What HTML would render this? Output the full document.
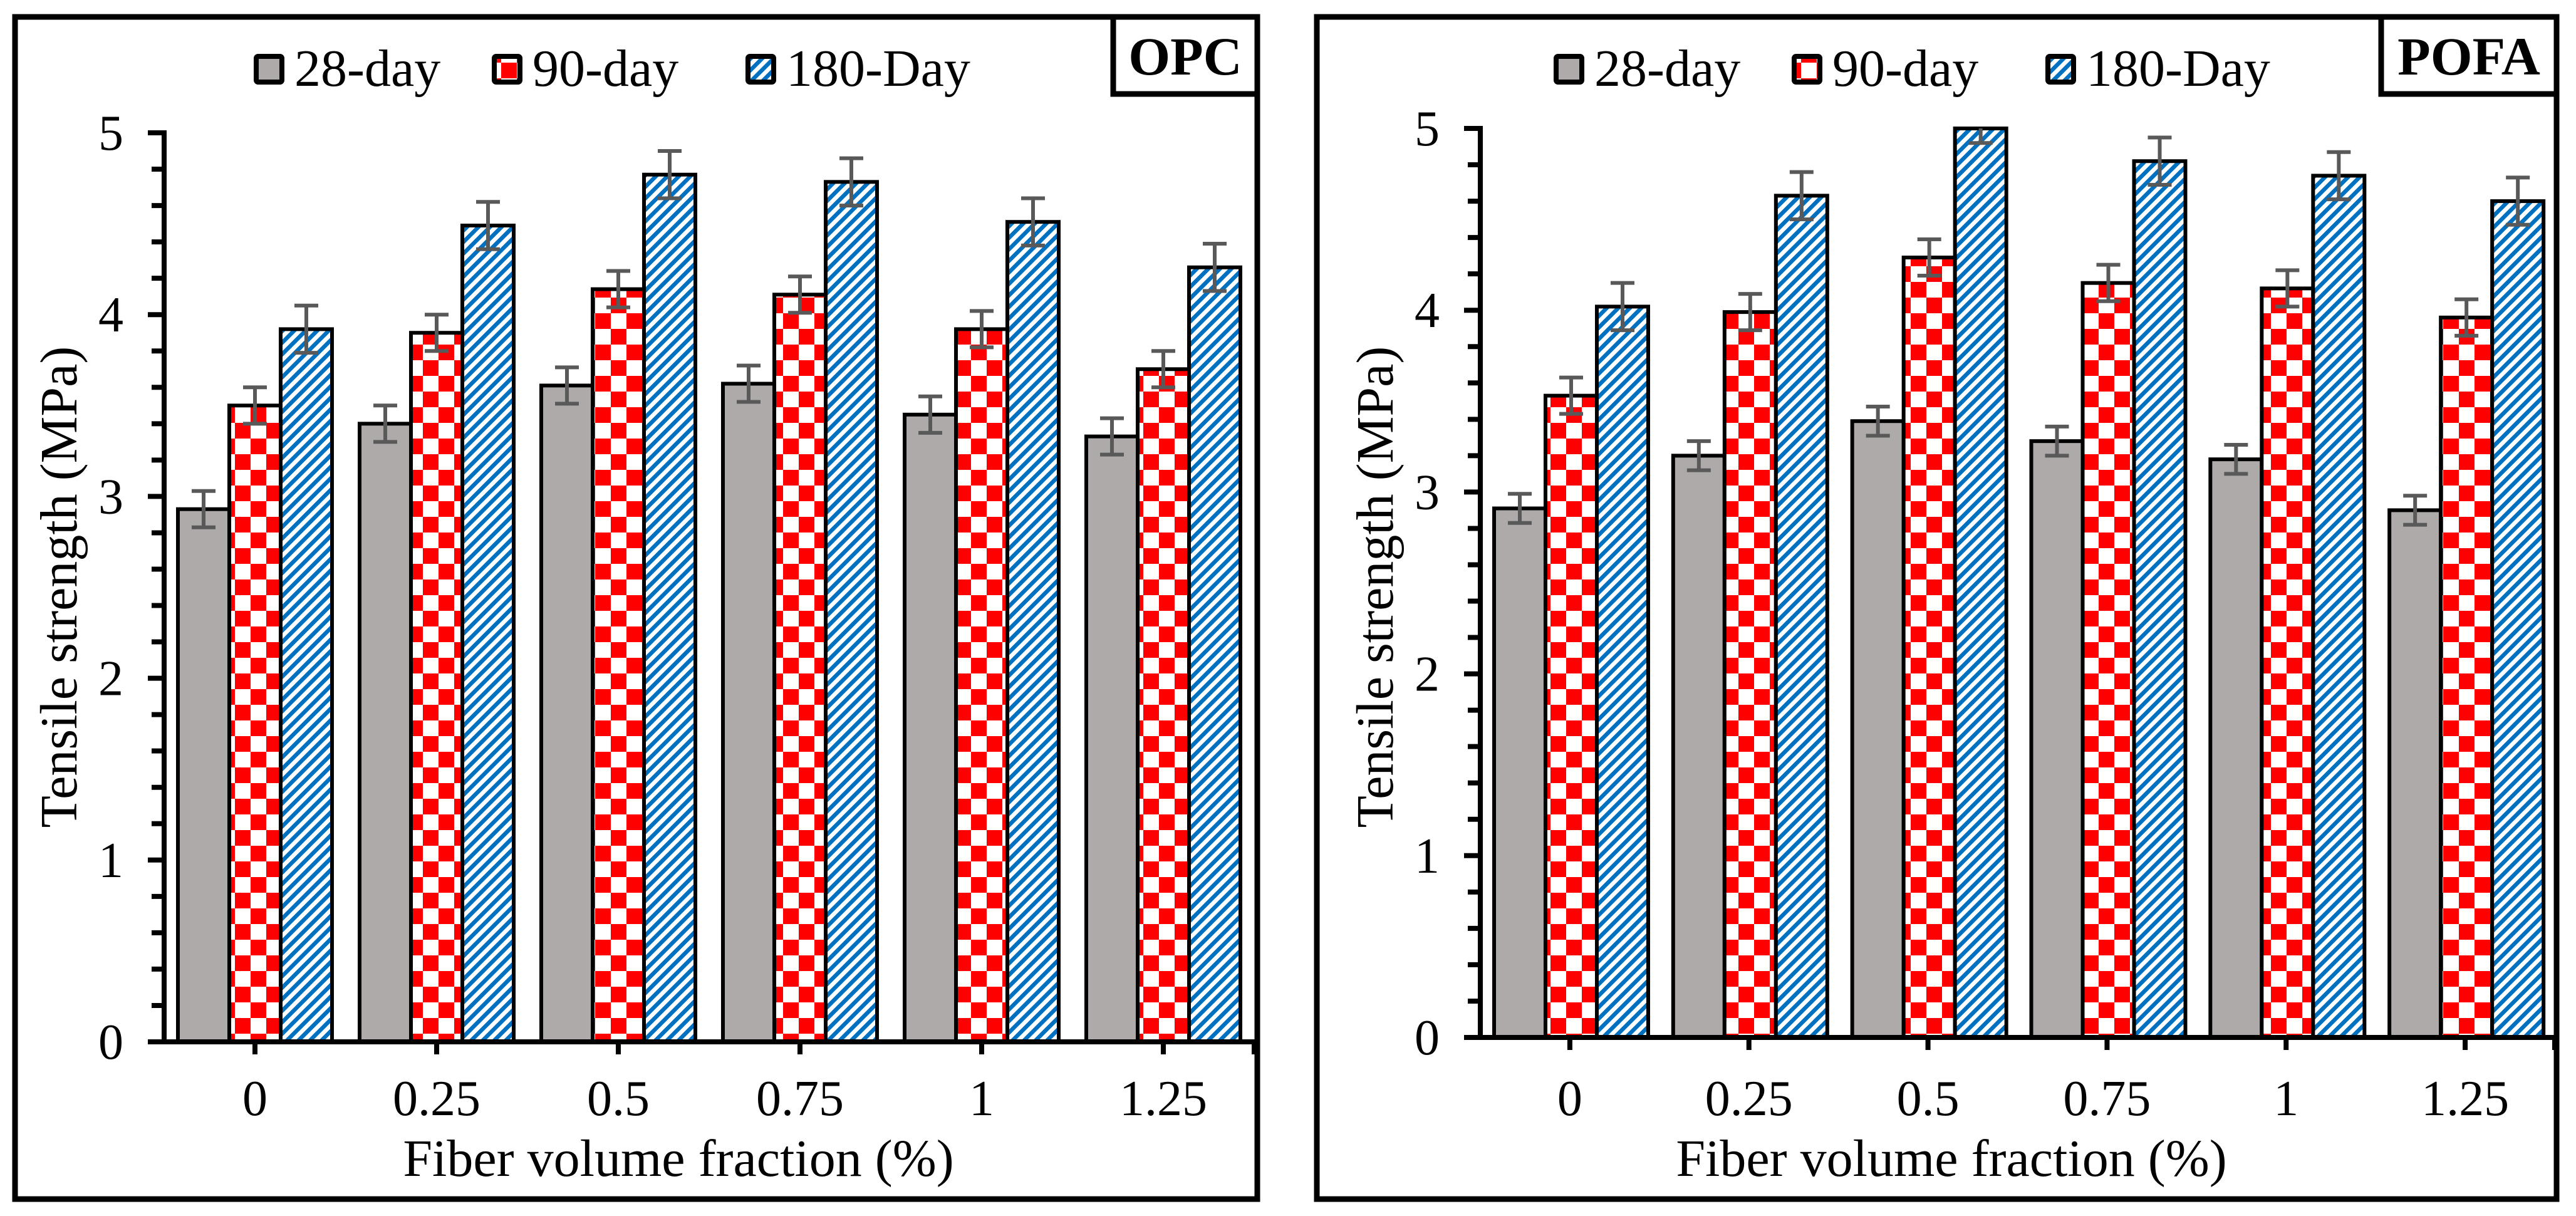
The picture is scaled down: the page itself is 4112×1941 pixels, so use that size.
<!DOCTYPE html>
<html><head><meta charset="utf-8"><style>
html,body{margin:0;padding:0;background:#fff;}
svg{display:block;}
svg text{font-family:"Liberation Serif","Times New Roman","DejaVu Serif",serif !important;fill:#000;}
</style></head>
<body>
<svg id="chart" width="4112" height="1941" viewBox="0 0 4112 1941" xmlns="http://www.w3.org/2000/svg" font-family="Liberation Serif, serif">
<defs>
<pattern id="checker" width="50" height="50" patternUnits="userSpaceOnUse">
<rect width="50" height="50" fill="#fff"/><rect width="25" height="25" fill="#ff0000"/><rect x="25" y="25" width="25" height="25" fill="#ff0000"/>
</pattern>
<pattern id="stripes" width="13" height="13" patternUnits="userSpaceOnUse" patternTransform="rotate(-45)">
<rect width="13" height="13" fill="#fff"/><rect width="13" height="6.5" fill="#0070c0"/>
</pattern>
</defs>
<g id="root" font-family="Liberation Serif, serif"></g>
</svg>
<script>
const categories = ["0","0.25","0.5","0.75","1","1.25"];
const seriesNames = ["28-day","90-day","180-Day"];
const opc28 = [2.93,3.40,3.61,3.62,3.45,3.33];
const opc90 = [3.50,3.90,4.14,4.11,3.92,3.70];
const opc180 = [3.92,4.49,4.77,4.73,4.51,4.26];
const opcErr = [0.10,0.10,0.13];
const pofa28 = [2.91,3.20,3.39,3.28,3.18,2.90];
const pofa90 = [3.53,3.99,4.29,4.15,4.12,3.96];
const pofa180 = [4.02,4.63,5.05,4.82,4.74,4.60];
const pofaErr = [0.08,0.10,0.13];
const yTicks = [0,1,2,3,4,5];

const NS="http://www.w3.org/2000/svg";
const root=document.getElementById('root');
function mk(tag,attrs,parent){const e=document.createElementNS(NS,tag);for(const k in attrs)e.setAttribute(k,attrs[k]);(parent||root).appendChild(e);return e;}
const fills=["#aeaaaa","url(#checker)","url(#stripes)"];
const FF="Liberation Serif, Times New Roman, serif";

function panel(cfg){
  const g=mk('g',{});
  
  
  const f=mk('rect',{x:cfg.fx,y:27,width:cfg.fw,height:1887,fill:'none',stroke:'#000','stroke-width':9},g);
  
  
  const x0=cfg.ax, x1=cfg.axEnd, y0=cfg.y0, y5=cfg.y5;
  const cw=(x1-x0)/categories.length;
  const ys=v=>y0-(Math.min(v,5))*(y0-y5)/5;
  const bw=82;
  const plot=mk('g',{},g);
  
  
  cfg.series.forEach((arr,si)=>{
    arr.forEach((v,ci)=>{
      const bx=x0+ci*cw+22+si*bw;
      const r=mk('rect',{x:bx,y:ys(v),width:bw,height:y0-ys(v),fill:fills[si],stroke:'#000','stroke-width':6},plot);
      
      
    });
  });
  cfg.series.forEach((arr,si)=>{
    arr.forEach((v,ci)=>{
      const cx=x0+ci*cw+22+si*bw+bw/2;
      const e=cfg.err[si];
      const eg=mk('g',{stroke:'#595959','stroke-width':6,fill:'none'},plot);
      
      
      const top=ys(v+e), bot=ys(v-e);
      mk('line',{x1:cx,y1:top,x2:cx,y2:bot},eg);
      if(v+e<=5) mk('line',{x1:cx-19,y1:top,x2:cx+19,y2:top},eg);
      mk('line',{x1:cx-19,y1:bot,x2:cx+19,y2:bot},eg);
    });
  });
  const ax=mk('g',{stroke:'#000','stroke-width':8},g);
  
  
  mk('line',{x1:x0,y1:y5-4,x2:x0,y2:y0+4},ax);
  mk('line',{x1:x0-4,y1:y0,x2:x1+4,y2:y0},ax);
  for(let i=0;i<=25;i++){const v=i*0.2;mk('line',{x1:x0-(i%5===0?26:20),y1:ys(v),x2:x0,y2:ys(v)},ax);}
  for(let i=0;i<categories.length;i++){const cx=x0+(i+0.5)*cw;mk('line',{x1:cx,y1:y0,x2:cx,y2:y0+20},ax);}
  mk('line',{x1:x1,y1:y0,x2:x1,y2:y0+20},ax);
  yTicks.forEach(t=>{const tx=mk('text',{x:x0-65,y:ys(t)+27,'text-anchor':'end','font-size':80,'font-family':FF},g);tx.textContent=t;
    });
  categories.forEach((c,i)=>{const tx=mk('text',{x:x0+(i+0.5)*cw,y:1780,'text-anchor':'middle','font-size':80,'font-family':FF},g);tx.textContent=c;
    });
  const yt=mk('text',{x:0,y:0,'text-anchor':'middle','font-size':84,'font-family':FF,transform:`translate(${x0-140},937) rotate(-90)`},g);
  yt.textContent='Tensile strength (MPa)';
  
  
  const xt=mk('text',{x:cfg.xtc,y:1877,'text-anchor':'middle','font-size':84,'font-family':FF},g);
  xt.textContent='Fiber volume fraction (%)';
  
  
  const lb=mk('rect',{x:cfg.bx,y:27,width:cfg.fx+cfg.fw-cfg.bx,height:123,fill:'#fff',stroke:'#000','stroke-width':9},g);
  
  
  const lt=mk('text',{x:(cfg.bx+cfg.fx+cfg.fw)/2,y:119,'text-anchor':'middle','font-size':86,'font-weight':'bold','font-family':FF},g);
  lt.textContent=cfg.label;
  
  
  const lx=[405,785,1190];
  seriesNames.forEach((n,i)=>{
    const lg=mk('g',{},g);
    
    
    mk('rect',{x:lx[i]+cfg.lo+4,y:90,width:41,height:41,rx:3,fill:fills[i],stroke:'#000','stroke-width':8},lg);
    const t=mk('text',{x:lx[i]+cfg.lo+65,y:137,'font-size':84,'font-family':FF},lg);t.textContent=n;
  });
}
panel({key:'opc',label:'OPC',fx:24,fw:1983,ax:262,axEnd:2002,y0:1663,y5:212,series:[opc28,opc90,opc180],err:opcErr,bx:1777,xtc:1083,lo:0});
panel({key:'pofa',label:'POFA',fx:2102,fw:1979,ax:2363,axEnd:4078,y0:1656,y5:205,series:[pofa28,pofa90,pofa180],err:pofaErr,bx:3801,xtc:3115,lo:2075});
</script>
</body></html>
